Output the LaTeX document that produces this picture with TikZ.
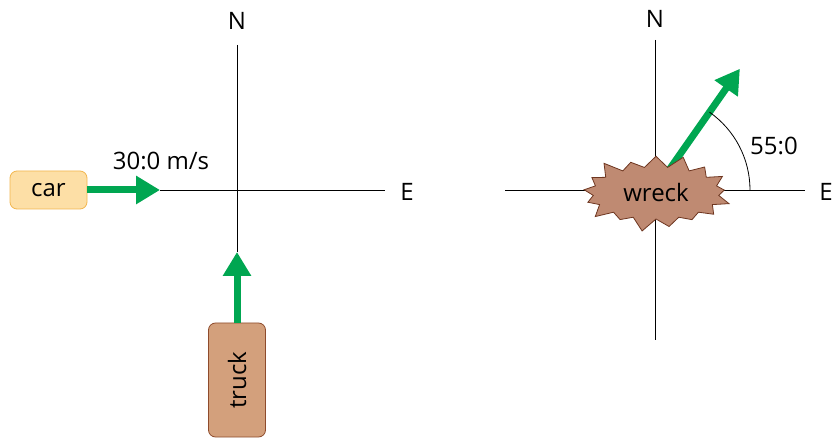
\documentclass[tikz,border=0pt]{standalone}
\usepackage{fontspec}
\setmainfont{Open Sans}
\usetikzlibrary{arrows.meta,shapes.symbols}
\definecolor{grn}{HTML}{00A651}
\definecolor{carfill}{HTML}{FDDFA6}
\definecolor{cardraw}{HTML}{F2B64E}
\definecolor{truckfill}{HTML}{D3A07C}
\definecolor{truckdraw}{HTML}{8E4B2C}
\definecolor{wreckfill}{HTML}{BF8A72}
\definecolor{wreckdraw}{HTML}{6E3620}
\tikzset{
  axis/.style={line width=0.8pt, black},
  lbl/.style={font=\fontsize{24}{28}\selectfont, inner sep=0pt},
  vec/.style={line width=7pt, grn, -{Triangle[length=24pt,width=27pt]}},
  vehicle/.style={rounded corners=7pt, line width=0.8pt, font=\fontsize{24}{28}\selectfont, inner sep=0pt}
}
\begin{document}
\begin{tikzpicture}[x=1pt,y=-1pt]
\useasboundingbox (0,0) rectangle (833,438);
% left cross
\coordinate (ltop) at (237,45);
\coordinate (lbot) at (237,252);
\coordinate (lleft) at (160,190);
\coordinate (lright) at (385,190);
\draw[axis] (ltop) -- (lbot);
\draw[axis] (lleft) -- (lright);
\node[lbl] (N1) at (237,21) {N};
\node[lbl] (E1) at (407,192) {E};
\node[vehicle, draw=cardraw, fill=carfill, minimum width=77pt, minimum height=38pt] (car) at (48.5,190) {car};
\draw[vec] (car.east) -- (lleft);
\node[lbl] (v1) at (161,161) {30:0 m/s};
\node[vehicle, draw=truckdraw, fill=truckfill, minimum width=114pt, minimum height=57pt, rotate=90] (truck) at (237,380) {truck};
\draw[vec] (truck.east) -- (lbot);
% right cross
\coordinate (C) at (655,190);
\coordinate (rtop) at (655,40);
\coordinate (rbot) at (655,340);
\coordinate (rleft) at (505,190);
\coordinate (rright) at (805,190);
\draw[axis] (rtop) -- (rbot);
\draw[axis] (rleft) -- (rright);
\node[lbl] (N2) at (655,19) {N};
\node[lbl] (E2) at (826,192) {E};
\draw[vec] (C) -- ([shift={(-55:148)}]C) coordinate (tip);
\draw[line width=0.8pt] ([shift={(0:95)}]C) arc[start angle=0, end angle=-55, radius=95];
\node[lbl] (ang) at (774,146) {55:0};
\node[starburst, draw=wreckdraw, fill=wreckfill, line width=0.8pt, minimum width=156pt, minimum height=82pt, starburst points=17, starburst point height=15pt, font=\fontsize{24}{28}\selectfont, inner sep=0pt] (wreck) at (656,193) {wreck};
\end{tikzpicture}
\end{document}
